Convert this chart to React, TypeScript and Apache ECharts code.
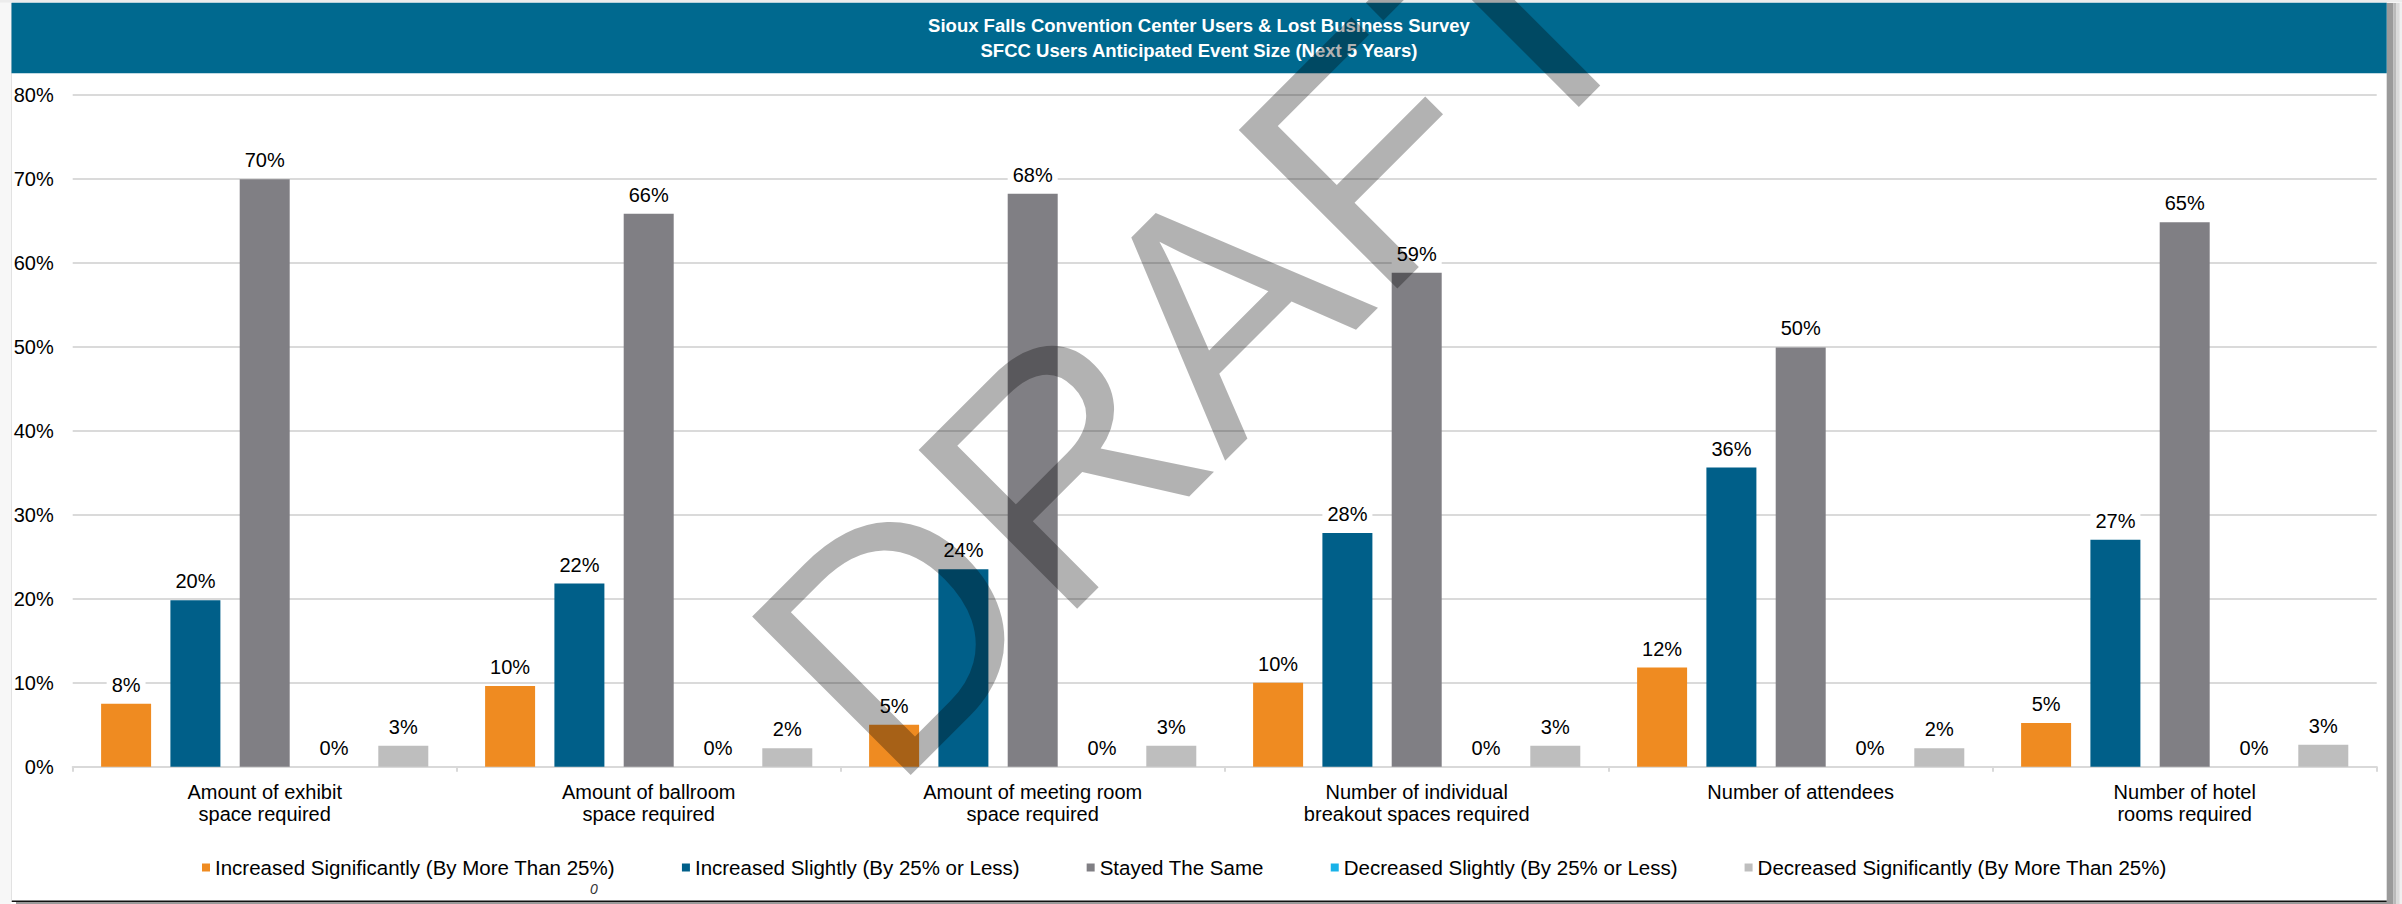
import React, { useEffect, useRef } from 'react';
import * as echarts from 'echarts';

const W = 2402;
const H = 904;

const categories = [
  'Amount of exhibit\nspace required',
  'Amount of ballroom\nspace required',
  'Amount of meeting room\nspace required',
  'Number of individual\nbreakout spaces required',
  'Number of attendees',
  'Number of hotel\nrooms required',
];

const seriesNames = [
  'Increased Significantly (By More Than 25%)',
  'Increased Slightly (By 25% or Less)',
  'Stayed The Same',
  'Decreased Slightly (By 25% or Less)',
  'Decreased Significantly (By More Than 25%)',
];

const increasedSignificantly = [7.5, 9.6, 5.0, 10.0, 11.8, 5.2];
const increasedSlightly = [19.8, 21.8, 23.5, 27.8, 35.6, 27.0];
const stayedSame = [69.9, 65.8, 68.2, 58.8, 49.9, 64.8];
const decreasedSlightly = [0, 0, 0, 0, 0, 0];
const decreasedSignificantly = [2.5, 2.2, 2.5, 2.5, 2.2, 2.6];

const yTicks = [0, 10, 20, 30, 40, 50, 60, 70, 80];

const seriesValues = [
  increasedSignificantly,
  increasedSlightly,
  stayedSame,
  decreasedSlightly,
  decreasedSignificantly,
];
const seriesColors = ['#EF8B21', '#005F89', '#807F84', '#19B2E8', '#BEBEBE'];

const FONT = "'Liberation Sans', Arial, sans-serif";

export default function App() {
  const ref = useRef<HTMLDivElement>(null);
  useEffect(() => {
    const chart = echarts.init(ref.current as HTMLDivElement, null, {
      renderer: 'svg',
      width: W,
      height: H,
    });
    const option: any = {
      animation: false,
      backgroundColor: '#ffffff',
      textStyle: { fontFamily: FONT },
      grid: { left: 72.7, right: 25.3, top: 94.5, bottom: 137.3, containLabel: false },
      legend: {
        data: seriesNames,
        left: 197,
        top: 852,
        icon: 'rect',
        itemWidth: 8,
        itemHeight: 8,
        itemGap: 67,
        selectedMode: false,
        textStyle: { fontSize: 20.5, color: '#000', fontFamily: FONT },
      },
      xAxis: {
        type: 'category',
        data: categories,
        axisLine: { show: true, lineStyle: { color: '#d9d9d9', width: 2 } },
        axisTick: { show: true, length: 5, lineStyle: { color: '#d9d9d9', width: 2 } },
        axisLabel: {
          fontSize: 20,
          lineHeight: 22,
          color: '#000',
          margin: 14,
          fontFamily: FONT,
          interval: 0,
        },
      },
      yAxis: {
        type: 'value',
        min: yTicks[0],
        max: yTicks[yTicks.length - 1],
        interval: 10,
        axisLine: { show: false },
        axisTick: { show: false },
        axisLabel: {
          fontSize: 20,
          color: '#000',
          margin: 19,
          fontFamily: FONT,
          formatter: (v: number) => v + '%',
        },
        splitLine: { lineStyle: { color: '#dadada', width: 2 } },
      },
      series: seriesNames.map((name, i) => ({
        name,
        type: 'bar',
        data: seriesValues[i],
        barWidth: 50,
        barGap: '38.6%',
        itemStyle: { color: seriesColors[i] },
        label: {
          show: true,
          position: 'top',
          distance: 8,
          fontSize: 20,
          color: '#000',
          fontFamily: FONT,
          backgroundColor: '#ffffff',
          padding: [1, 5],
          formatter: (p: any) => Math.round(p.value) + '%',
        },
      })),
      graphic: [
        // frame left edge
        { type: 'rect', z: 1, shape: { x: 0, y: 0, width: 11, height: H }, style: { fill: '#f7f7f7' } },
        { type: 'line', z: 1, shape: { x1: 11.5, y1: 3, x2: 11.5, y2: 900 }, style: { stroke: '#e2e2e2', lineWidth: 1 } },
        { type: 'rect', z: 1, shape: { x: 0, y: 0, width: W, height: 2.5 }, style: { fill: '#ececec' } },
        // right shadow
        { type: 'rect', z: 1, shape: { x: 2386.7, y: 3, width: 6.5, height: 901 }, style: { fill: '#9a9a9a' } },
        { type: 'rect', z: 1, shape: { x: 2393.2, y: 3, width: 3.3, height: 901 }, style: { fill: '#bababa' } },
        { type: 'rect', z: 1, shape: { x: 2396.5, y: 3, width: 3.3, height: 901 }, style: { fill: '#dadada' } },
        { type: 'rect', z: 1, shape: { x: 2399.8, y: 3, width: 2.2, height: 901 }, style: { fill: '#f0f0f0' } },
        // bottom edge
        { type: 'rect', z: 1, shape: { x: 11.7, y: 900.5, width: 2375, height: 1.5 }, style: { fill: '#111111' } },
        { type: 'rect', z: 1, shape: { x: 16, y: 902, width: 2371, height: 2 }, style: { fill: '#9a9a9a' } },
        // title band
        { type: 'rect', z: 5, shape: { x: 11.5, y: 2.7, width: 2375.2, height: 70.6 }, style: { fill: '#00698F' } },
        {
          type: 'text', z: 6, x: 1199, y: 25.5,
          style: {
            text: 'Sioux Falls Convention Center Users & Lost Business Survey',
            fill: '#ffffff', fontSize: 18.5, fontWeight: 'bold', fontFamily: FONT,
            textAlign: 'center', textVerticalAlign: 'middle',
          },
        },
        {
          type: 'text', z: 6, x: 1199, y: 50.5,
          style: {
            text: 'SFCC Users Anticipated Event Size (Next 5 Years)',
            fill: '#ffffff', fontSize: 18.5, fontWeight: 'bold', fontFamily: FONT,
            textAlign: 'center', textVerticalAlign: 'middle',
          },
        },
        // stray footnote
        {
          type: 'text', z: 6, x: 594, y: 889,
          style: {
            text: '0', fill: '#333333', fontSize: 14, fontStyle: 'italic', fontFamily: FONT,
            textAlign: 'center', textVerticalAlign: 'middle',
          },
        },
        // watermark
        {
          type: 'text', z: 100, x: 1196, y: 330, rotation: Math.PI / 4,
          style: {
            text: 'DRAFT', fill: 'rgba(0,0,0,0.3)', fontSize: 326, fontFamily: FONT,
            textAlign: 'center', textVerticalAlign: 'middle',
          },
        },
      ],
    };
    chart.setOption(option);
    return () => chart.dispose();
  }, []);
  return (
    <div
      ref={ref}
      style={{ position: 'absolute', left: 0, top: 0, width: W, height: H, background: '#fff' }}
    />
  );
}
